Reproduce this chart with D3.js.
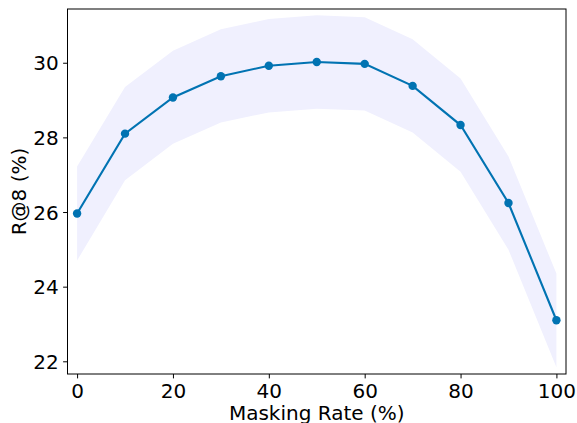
<!DOCTYPE html>
<html><head><meta charset="utf-8">
<script src="https://cdn.jsdelivr.net/npm/d3@7"></script>
<style>body{margin:0;background:#fff}svg{display:block}text{font-family:"DejaVu Sans",sans-serif}</style>
</head><body><svg id="c" width="577" height="423"></svg>
<script>
const maskingRate = [0, 10, 20, 30, 40, 50, 60, 70, 80, 90, 100];
const recallMean  = [25.96, 28.10, 29.07, 29.64, 29.92, 30.02, 29.97, 29.38, 28.33, 26.24, 23.10];
const recallUpper = [27.22, 29.35, 30.32, 30.90, 31.17, 31.27, 31.22, 30.63, 29.58, 27.49, 24.35];
const recallLower = [24.70, 26.85, 27.83, 28.40, 28.67, 28.77, 28.72, 28.13, 27.08, 24.99, 21.84];
const xTicks = [0, 20, 40, 60, 80, 100];
const yTicks = [22, 24, 26, 28, 30];

const svg = d3.select("#c");
const L = 67.5, R = 566, T = 9, B = 374;
const x = d3.scaleLinear().domain([-2, 102]).range([L, R]);
const y = d3.scaleLinear().domain([21.66, 31.44]).range([B, T]);
const fs = 20;

const data = maskingRate.map((r, i) => ({r, m: recallMean[i], lo: recallLower[i], hi: recallUpper[i]}));

svg.append("path").datum(data)
  .attr("d", d3.area().x(d => x(d.r)).y0(d => y(d.lo)).y1(d => y(d.hi)))
  .attr("fill", "#f0f0fe");

svg.append("path").datum(data)
  .attr("d", d3.line().x(d => x(d.r)).y(d => y(d.m)))
  .attr("fill", "none").attr("stroke", "#0173b2").attr("stroke-width", 2.1);

svg.selectAll("circle.pt").data(data).enter().append("circle")
  .attr("cx", d => x(d.r)).attr("cy", d => y(d.m)).attr("r", 4.2)
  .attr("fill", "#0173b2");

// axes
const xAxis = d3.axisBottom(x).tickValues(xTicks).tickSize(4.4).tickPadding(4.4).tickFormat(d3.format("d"));
const yAxis = d3.axisLeft(y).tickValues(yTicks).tickSize(4.4).tickPadding(4.4).tickFormat(d3.format("d"));
const gx = svg.append("g").attr("transform", `translate(0,${B})`).call(xAxis);
const gy = svg.append("g").attr("transform", `translate(${L},0)`).call(yAxis);
[gx, gy].forEach(g => {
  g.select(".domain").remove();
  g.selectAll("line").attr("stroke", "#000").attr("stroke-width", 1);
  g.selectAll("text").attr("font-size", fs).attr("fill", "#000").attr("font-family", "DejaVu Sans");
});
gx.selectAll("text").attr("dy", null).attr("y", 8.6).attr("dominant-baseline", "hanging");
gy.selectAll("text").attr("dy", null).attr("dominant-baseline", "central");

// frame
svg.append("rect").attr("x", L).attr("y", T).attr("width", R - L).attr("height", B - T)
  .attr("fill", "none").attr("stroke", "#000").attr("stroke-width", 1);

svg.append("text").attr("x", (L + R) / 2).attr("y", 419.5).attr("text-anchor", "middle")
  .attr("font-size", fs).text("Masking Rate (%)");
svg.append("text").attr("transform", `translate(25.5,${(T + B) / 2}) rotate(-90)`)
  .attr("text-anchor", "middle").attr("font-size", fs).text("R@8 (%)");
</script></body></html>
